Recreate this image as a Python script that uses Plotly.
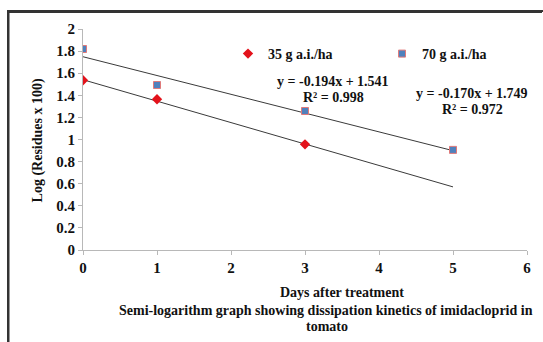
import plotly.graph_objects as go

days_35 = [0, 1, 3]
log_res_35 = [1.536, 1.364, 0.956]
days_70 = [0, 1, 3, 5]
log_res_70 = [1.819, 1.493, 1.258, 0.906]

fit_35 = (-0.194, 1.541)
fit_70 = (-0.170, 1.749)
fit_x = [0, 5]

x_ticks = [0, 1, 2, 3, 4, 5, 6]
y_ticks = [0, 0.2, 0.4, 0.6, 0.8, 1, 1.2, 1.4, 1.6, 1.8, 2]
y_tick_text = ["0", "0.2", "0.4", "0.6", "0.8", "1", "1.2", "1.4", "1.6", "1.8", "2"]

FONT = "Liberation Serif"
TXT = "#111111"

W, H = 543, 342
L, R, T, B = 83, 16, 29, 92
pw, ph = W - L - R, H - T - B


def px(xp):
    return (xp - L) / pw


def py(yp):
    return (H - B - yp) / ph


fig = go.Figure()

fig.add_trace(go.Scatter(
    x=fit_x, y=[fit_35[0] * x + fit_35[1] for x in fit_x], mode="lines",
    line=dict(color="#3a3a3a", width=1), showlegend=False, hoverinfo="skip"))
fig.add_trace(go.Scatter(
    x=fit_x, y=[fit_70[0] * x + fit_70[1] for x in fit_x], mode="lines",
    line=dict(color="#3a3a3a", width=1), showlegend=False, hoverinfo="skip"))

fig.add_trace(go.Scatter(
    x=days_35, y=log_res_35, mode="markers", name="<b>35 g a.i./ha</b>",
    legend="legend",
    marker=dict(symbol="diamond", size=8, color="#e3121b",
                line=dict(color="#e3121b", width=0))))
fig.add_trace(go.Scatter(
    x=days_70, y=log_res_70, mode="markers", name="<b>70 g a.i./ha</b>",
    legend="legend2",
    marker=dict(symbol="square", size=7, color="#4f81bd",
                line=dict(color="#e07a7a", width=1))))


def ann(text, xp, yp, size=14, **kw):
    fig.add_annotation(text=text, x=px(xp), y=py(yp), xref="paper", yref="paper",
                       xanchor="center", yanchor="middle", showarrow=False,
                       font=dict(family=FONT, size=size, color=TXT), **kw)


ann("<b>y = -0.194x + 1.541</b>", 332.5, 81)
ann("<b>R² = 0.998</b>", 333.6, 97)
ann("<b>y = -0.170x + 1.749</b>", 471.8, 93)
ann("<b>R² = 0.972</b>", 472.8, 109)

ann("<b>Days after treatment</b>", 342, 292)
ann("<b>Semi-logarithm graph showing dissipation kinetics of imidacloprid in</b>", 326.4, 310)
ann("<b>tomato</b>", 326.5, 326)
ann("<b>Log (Residues x 100)</b>", 38.4, 140, textangle=-90)

# outer frame (only left and top edges fall inside the picture)
fig.add_shape(type="path", xref="paper", yref="paper", layer="above",
              path=f"M {px(8.5)},{py(342)} L {px(8.5)},{py(12)} L {px(542)},{py(12)}",
              line=dict(color="#333333", width=2))

leg_common = dict(orientation="h", xanchor="left", yanchor="middle",
                  bgcolor="rgba(0,0,0,0)", font=dict(family=FONT, size=14, color=TXT))

fig.update_layout(
    width=W, height=H,
    margin=dict(l=L, r=R, t=T, b=B),
    paper_bgcolor="white", plot_bgcolor="white",
    font=dict(family=FONT, size=14, color=TXT),
    legend=dict(x=px(228), y=py(54), **leg_common),
    legend2=dict(x=px(382), y=py(54), **leg_common),
    xaxis=dict(range=[0, 6], tickvals=x_ticks, ticktext=[f"<b>{v}</b>" for v in x_ticks],
               showgrid=False, zeroline=False, showline=True, linecolor="#b8b8b8",
               linewidth=1, ticks="outside", ticklen=4, tickcolor="#b8b8b8",
               tickfont=dict(family=FONT, size=15, color=TXT)),
    yaxis=dict(range=[0, 2], tickvals=y_ticks, ticktext=[f"<b>{t}</b>" for t in y_tick_text],
               showgrid=False, zeroline=False, showline=True, linecolor="#b8b8b8",
               linewidth=1, ticks="outside", ticklen=4, tickcolor="#b8b8b8",
               tickfont=dict(family=FONT, size=15, color=TXT)),
)

post = (
    "document.body.style.margin='0px';"
    "var f=document.createElement('div');"
    "f.style.cssText='position:absolute;left:7px;top:10px;width:600px;height:400px;"
    "border-left:2px solid #333;border-top:2px solid #333;pointer-events:none;';"
    "document.body.appendChild(f);"
)

fig.write_html("out.html", config={"displayModeBar": False}, post_script=post)
